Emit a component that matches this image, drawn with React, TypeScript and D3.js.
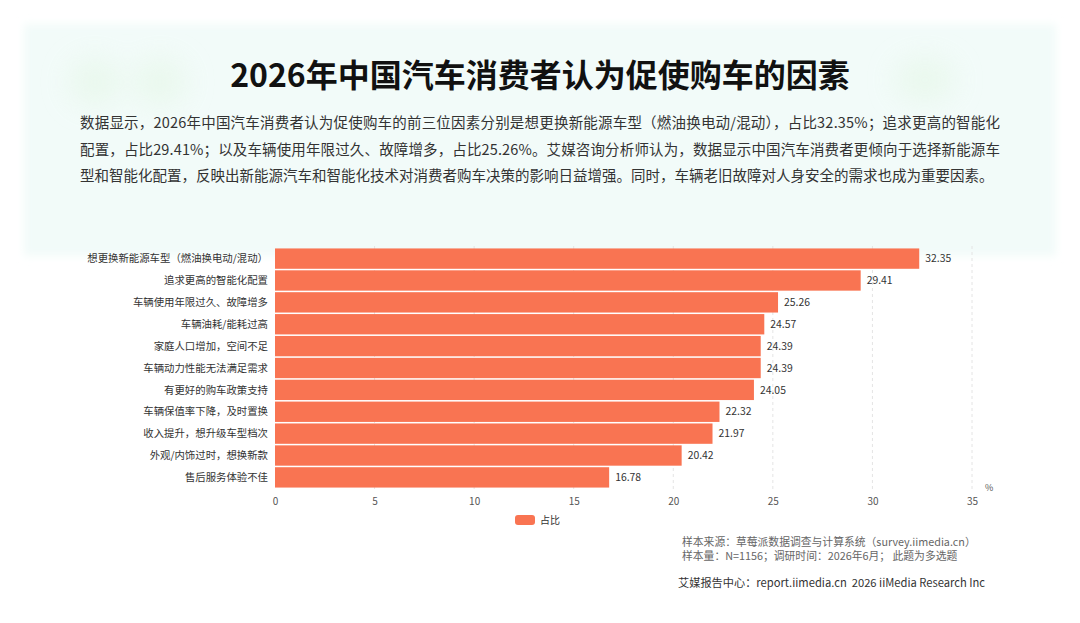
import * as d3 from 'd3'
import { useEffect, useRef } from 'react'

const categories = [
    '想更换新能源车型（燃油换电动/混动）',
    '追求更高的智能化配置',
    '车辆使用年限过久、故障增多',
    '车辆油耗/能耗过高',
    '家庭人口增加，空间不足',
    '车辆动力性能无法满足需求',
    '有更好的购车政策支持',
    '车辆保值率下降，及时置换',
    '收入提升，想升级车型档次',
    '外观/内饰过时，想换新款',
    '售后服务体验不佳',
];
const shares = [32.35, 29.41, 25.26, 24.57, 24.39, 24.39, 24.05, 22.32, 21.97, 20.42, 16.78];
const xTicks = [0, 5, 10, 15, 20, 25, 30, 35];

const title = '2026年中国汽车消费者认为促使购车的因素';
const paragraph = [
    '数据显示，2026年中国汽车消费者认为促使购车的前三位因素分别是想更换新能源车型（燃油换电动/混动），占比32.35%；追求更高的智能化',
    '配置，占比29.41%；以及车辆使用年限过久、故障增多，占比25.26%。艾媒咨询分析师认为，数据显示中国汽车消费者更倾向于选择新能源车',
    '型和智能化配置，反映出新能源汽车和智能化技术对消费者购车决策的影响日益增强。同时，车辆老旧故障对人身安全的需求也成为重要因素。',
];
const sourceLines = [
    '样本来源：草莓派数据调查与计算系统（survey.iimedia.cn）',
    '样本量：N=1156；调研时间：2026年6月； 此题为多选题',
];
const footer = '艾媒报告中心：report.iimedia.cn  2026 iiMedia Research Inc';
const legendLabel = '占比';

const FONT = '"Noto Sans CJK SC", "Noto Sans", sans-serif';
const BAR = '#f97452';

const drawChart = (el: SVGSVGElement) => {
    const width = 1080;
    const height = 623;
    const svg = d3.select(el);
    svg.selectAll('*').remove();
    svg.attr('width', width).attr('height', height).style('font-family', FONT);

    svg.append('rect').attr('width', width).attr('height', height).attr('fill', '#ffffff');

    // soft mint header panel
    const defs = svg.append('defs');
    defs.append('filter').attr('id', 'soft').attr('x', '-20%').attr('y', '-20%').attr('width', '140%').attr('height', '140%')
        .append('feGaussianBlur').attr('stdDeviation', 4);
    defs.append('filter').attr('id', 'blob').attr('x', '-50%').attr('y', '-50%').attr('width', '200%').attr('height', '200%')
        .append('feGaussianBlur').attr('stdDeviation', 14);

    svg.append('rect')
        .attr('x', 24).attr('y', 24).attr('width', 1032).attr('height', 232)
        .attr('fill', '#f2fbf9').attr('filter', 'url(#soft)');

    const blobs = svg.append('g').attr('filter', 'url(#blob)').attr('fill', '#e6f7e8').attr('opacity', 0.7);
    blobs.append('ellipse').attr('cx', 95).attr('cy', 82).attr('rx', 26).attr('ry', 24);
    blobs.append('ellipse').attr('cx', 160).attr('cy', 82).attr('rx', 26).attr('ry', 24);
    blobs.append('ellipse').attr('cx', 925).attr('cy', 80).attr('rx', 30).attr('ry', 22);

    svg.append('text')
        .attr('x', width / 2).attr('y', 87)
        .attr('text-anchor', 'middle')
        .attr('font-size', 32).attr('font-weight', 700).attr('fill', '#111')
        .text(title);

    paragraph.forEach((line, i) => {
        const t = svg.append('text')
            .attr('x', 80).attr('y', 128 + i * 26.5)
            .attr('font-size', 14.5).attr('fill', '#333')
            .text(line);
        if (i < paragraph.length - 1) t.attr('textLength', 920).attr('lengthAdjust', 'spacing');
    });

    // chart
    const x = d3.scaleLinear().domain([0, 35]).range([275, 972]);
    const y = d3.scaleBand<string>().domain(categories).range([248, 488]).paddingInner(0.07).paddingOuter(0.02);

    const grid = svg.append('g');
    grid.selectAll('line')
        .data(xTicks.slice(1))
        .join('line')
        .attr('x1', d => x(d)).attr('x2', d => x(d))
        .attr('y1', 246).attr('y2', 490)
        .attr('stroke', '#e4e4e4').attr('stroke-dasharray', '3,3');

    svg.append('g')
        .selectAll('rect')
        .data(shares)
        .join('rect')
        .attr('x', x(0))
        .attr('y', (_, i) => y(categories[i])!)
        .attr('width', d => x(d) - x(0))
        .attr('height', y.bandwidth())
        .attr('fill', BAR);

    svg.append('g')
        .selectAll('text')
        .data(shares)
        .join('text')
        .attr('x', d => x(d) + 6)
        .attr('y', (_, i) => y(categories[i])! + y.bandwidth() / 2)
        .attr('dy', '0.35em')
        .attr('font-size', 10.4).attr('fill', '#333')
        .text(d => d.toFixed(2));

    svg.append('g')
        .selectAll('text')
        .data(categories)
        .join('text')
        .attr('x', 268)
        .attr('y', d => y(d)! + y.bandwidth() / 2)
        .attr('dy', '0.35em')
        .attr('text-anchor', 'end')
        .attr('font-size', 10.4).attr('fill', '#333')
        .text(d => d);

    const axis = svg.append('g')
        .attr('transform', 'translate(0,490)')
        .call(d3.axisBottom(x).tickValues(xTicks).tickSize(0).tickPadding(8).tickFormat(d => String(d)));
    axis.select('.domain').remove();
    axis.selectAll('text').attr('font-size', 10).attr('fill', '#555').style('font-family', FONT);

    svg.append('text')
        .attr('x', 985).attr('y', 491)
        .attr('font-size', 9).attr('fill', '#555')
        .text('%');

    // legend
    svg.append('rect')
        .attr('x', 515).attr('y', 515).attr('width', 20).attr('height', 10).attr('rx', 3)
        .attr('fill', BAR);
    svg.append('text')
        .attr('x', 540).attr('y', 520).attr('dy', '0.35em')
        .attr('font-size', 10).attr('fill', '#333')
        .text(legendLabel);

    sourceLines.forEach((line, i) => {
        svg.append('text')
            .attr('x', 682).attr('y', 542 + i * 14.5).attr('dy', '0.35em')
            .attr('font-size', 10.8).attr('fill', '#666')
            .text(line);
    });

    svg.append('text')
        .attr('x', 678).attr('y', 583).attr('dy', '0.35em')
        .attr('font-size', 11.2).attr('fill', '#333')
        .style('white-space', 'pre')
        .text(footer);
};

const App = () => {
    const ref = useRef<SVGSVGElement>(null);

    useEffect(() => {
        if (ref.current) drawChart(ref.current);
    }, []);

    return (
        <svg ref={ref} style={{ position: 'absolute', left: 0, top: 0, display: 'block' }}></svg>
    );
};

export default App;
